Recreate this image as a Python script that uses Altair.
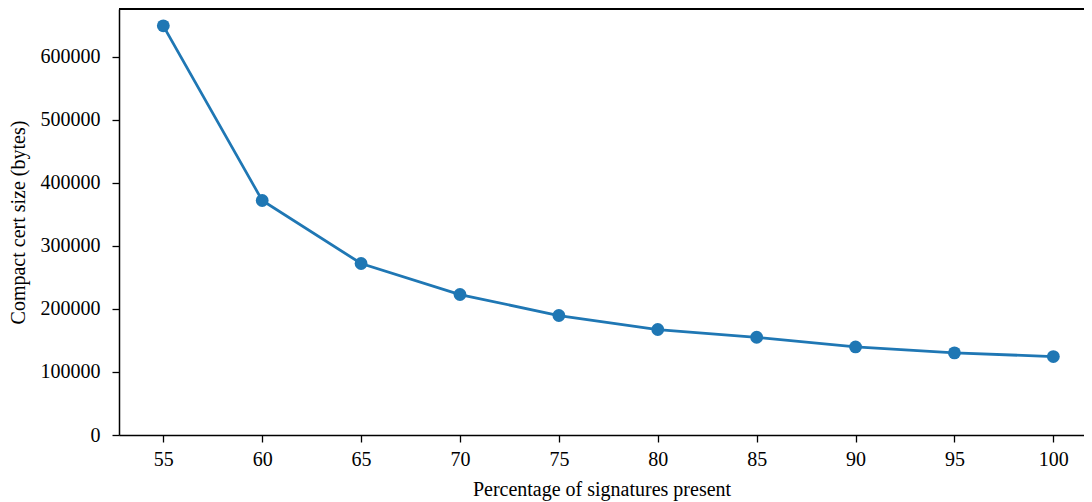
import altair as alt
import pandas as pd

percent = [55, 60, 65, 70, 75, 80, 85, 90, 95, 100]
cert_size = [649000, 372000, 272000, 222800, 189500, 167300, 155000, 139700, 130200, 124400]

df = pd.DataFrame({"percent": percent, "size": cert_size})

FONT = "Liberation Serif"
COLOR = "#1f77b4"
W = 965

x_scale = alt.Scale(domain=[52.76, 101.55], nice=False, zero=False)
y_scale = alt.Scale(domain=[0, 675700], nice=False)

base = alt.Chart(df).encode(
    x=alt.X("percent:Q", scale=x_scale,
            axis=alt.Axis(title="Percentage of signatures present",
                          values=percent, format="d", grid=False,
                          tickSize=7, tickWidth=1.3, tickColor="black",
                          domainColor="black", domainWidth=1.5,
                          labelFont=FONT, labelFontSize=20, labelColor="black",
                          labelPadding=7,
                          titleFont=FONT, titleFontSize=20, titleFontWeight="normal",
                          titleColor="black", titlePadding=10)),
    y=alt.Y("size:Q", scale=y_scale,
            axis=alt.Axis(title="Compact cert size (bytes)",
                          values=[0, 100000, 200000, 300000, 400000, 500000, 600000],
                          format="d", grid=False,
                          tickSize=7, tickWidth=1.3, tickColor="black",
                          domainColor="black", domainWidth=1.5,
                          labelFont=FONT, labelFontSize=20, labelColor="black",
                          labelPadding=12,
                          titleFont=FONT, titleFontSize=20, titleFontWeight="normal",
                          titleColor="black", titlePadding=12)),
)

line = base.mark_line(color=COLOR, strokeWidth=2.8)
pts = base.mark_circle(color=COLOR, opacity=1, size=165)

top = alt.Chart(df).mark_rule(color="black", strokeWidth=1.5).encode(
    x=alt.value(0), x2=alt.value(W), y=alt.value(0)
)

chart = (line + pts + top).properties(
    width=W, height=426,
    autosize=alt.AutoSizeParams(type="none"),
    padding={"left": 111, "top": 1, "right": 0, "bottom": 70},
).configure_view(stroke=None)

chart.save("out.html", embed_options={"renderer": "svg", "actions": False})
